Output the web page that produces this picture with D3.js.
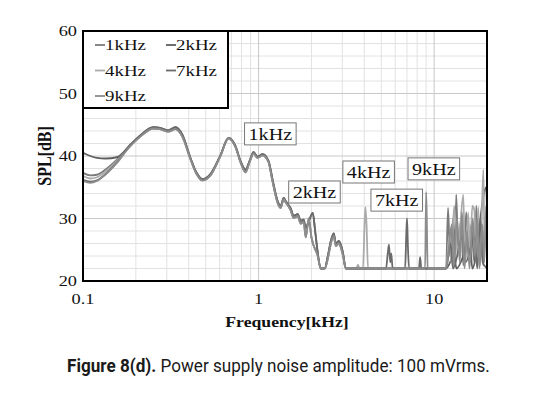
<!DOCTYPE html>
<html>
<head>
<meta charset="utf-8">
<script src="https://cdn.jsdelivr.net/npm/d3@7"></script>
<style>
  body { margin: 0; background: #fff; }
</style>
</head>
<body>
<div id="chart"></div>
<script>
// ---- data (frequency in kHz, SPL in dB) ----
const seriesNames = ["1kHz", "2kHz", "4kHz", "7kHz", "9kHz"];
const yTicks = [20, 30, 40, 50, 60];
const xTicks = [0.1, 1, 10];

// low-frequency start of each trace
const start1k = [[0.1, 37.3], [0.11, 36.9], [0.12, 37.0], [0.134, 37.8], [0.156, 39.4]];
const start2k = [[0.1, 40.5], [0.11, 40.0], [0.12, 39.7], [0.134, 39.6], [0.156, 39.8]];
const start4k = [[0.1, 36.8], [0.11, 36.4], [0.12, 36.6], [0.134, 37.5], [0.156, 39.2]];
const start7k = [[0.1, 36.2], [0.11, 35.9], [0.12, 36.1], [0.134, 37.1], [0.156, 39.0]];
const start9k = [[0.1, 36.0], [0.11, 35.7], [0.12, 36.0], [0.134, 37.0], [0.156, 38.9]];

// shared mid band, two slightly different strands
const midA = [[0.186, 41.6], [0.212, 43.1], [0.251, 44.4], [0.275, 44.3], [0.306, 43.9], [0.336, 44.3],
  [0.368, 43.1], [0.408, 39.6], [0.442, 37.2], [0.479, 36.1], [0.532, 36.9], [0.606, 40.0],
  [0.674, 42.8], [0.739, 41.4], [0.789, 39.0], [0.843, 37.4], [0.888, 39.0], [0.936, 40.4],
  [0.987, 39.7], [1.054, 40.1], [1.14, 39.0], [1.2, 36.0], [1.284, 32.5], [1.336, 31.7],
  [1.389, 33.1], [1.426, 32.6], [1.524, 31.3], [1.585, 30.1], [1.671, 30.4], [1.738, 29.2],
  [1.807, 29.5], [1.856, 27.0], [1.931, 30.0], [2.0, 27.0], [2.173, 24.0], [2.26, 22],
  [2.38, 22], [2.48, 23.6], [2.58, 26.0], [2.68, 27.2], [2.754, 25.6], [2.864, 26.0],
  [3.02, 24.2], [3.14, 22]];
const midB = [[0.186, 41.8], [0.212, 43.3], [0.251, 44.6], [0.275, 44.5], [0.306, 44.1], [0.336, 44.6],
  [0.368, 43.4], [0.408, 39.8], [0.442, 37.4], [0.479, 36.3], [0.532, 37.1], [0.606, 40.1],
  [0.674, 42.9], [0.739, 41.6], [0.789, 39.2], [0.843, 37.8], [0.888, 39.2], [0.936, 40.6],
  [0.987, 39.9], [1.054, 40.3], [1.14, 39.2], [1.2, 36.3], [1.284, 32.8], [1.336, 32.0],
  [1.389, 33.3], [1.426, 32.8], [1.524, 31.6], [1.585, 30.4], [1.671, 30.7], [1.738, 29.6],
  [1.807, 29.8], [1.856, 28.5], [1.931, 29.5], [2.035, 30.9], [2.1, 28.0], [2.173, 24.5],
  [2.26, 22], [2.38, 22], [2.48, 24.0], [2.58, 26.4], [2.68, 27.6], [2.754, 26.0],
  [2.864, 26.4], [3.02, 24.6], [3.14, 22]];

// high band: harmonic spikes and the noisy region above ~12 kHz
const high1k = [[11.7, 22], [12.0, 31.7], [12.3, 24], [12.84, 30], [13.1, 23], [13.36, 33.8], [13.7, 25],
  [14.26, 30], [14.65, 22.5], [15.24, 31], [15.64, 24], [16.26, 29], [16.93, 23], [17.38, 32],
  [17.84, 25], [18.56, 28], [19.05, 22.5], [19.5, 30], [20, 24]];
const high2k = [[11.7, 22], [13.0, 24], [13.4, 22], [16.0, 26], [16.5, 22], [19.82, 35], [20, 30]];
const high4k = [[3.6, 22], [3.68, 22.6], [3.76, 22], [3.93, 22], [4.02, 29.6], [4.06, 31.8], [4.12, 29],
  [4.2, 22], [11.7, 22], [12.2, 27], [12.5, 23], [13.0, 32], [13.6, 24], [14.65, 33.8], [15.0, 23],
  [15.64, 30.9], [16.0, 24], [16.5, 32], [16.93, 31.4], [17.38, 23], [17.84, 31.8], [18.3, 22.5],
  [19.05, 37.8], [19.4, 25], [19.82, 32], [20, 29]];
const high7k = [[5.32, 22], [5.45, 24.6], [5.53, 25.8], [5.62, 23], [5.7, 24.4], [5.8, 22], [6.83, 22],
  [6.95, 28], [7.01, 30.0], [7.08, 26], [7.2, 22], [8.2, 22], [8.32, 23.8], [8.45, 22], [11.7, 22],
  [12.4, 26], [12.8, 22], [14.5, 27], [15.1, 23], [17.0, 27], [17.6, 22], [18.3, 30], [18.9, 23], [20, 22]];
const high9k = [[8.88, 22], [9.0, 34.2], [9.08, 30], [9.18, 22], [11.7, 22], [12.1, 25], [12.6, 29],
  [12.9, 22.5], [13.5, 30], [14.0, 23], [14.4, 31], [14.9, 22], [15.4, 28], [15.9, 22], [16.6, 30],
  [17.1, 24], [17.6, 30], [18.1, 22], [18.8, 29], [19.3, 23], [19.8, 32], [20, 26]];

// label boxes: name, left frequency, top dB
const labelNames = ["1kHz", "2kHz", "4kHz", "7kHz", "9kHz"];
const labelFreq = [0.832, 1.484, 3.02, 4.365, 7.10];
const labelDb = [45.3, 36.0, 39.2, 34.7, 39.7];

const series = [
  { name: "1kHz", values: start1k.concat(midA, high1k), color: "#7a7a7a" },
  { name: "2kHz", values: start2k.concat(midB, high2k), color: "#5e5e5e" },
  { name: "4kHz", values: start4k.concat(midA, high4k), color: "#ababab" },
  { name: "7kHz", values: start7k.concat(midB, high7k), color: "#6a6a6a" },
  { name: "9kHz", values: start9k.concat(midA, high9k), color: "#8c8c8c" },
];

// ---- layout ----
const W = 547, H = 395;
const margin = { top: 31, left: 83 };
const width = 404, height = 250;
const SX = 1.22; // the figure is stretched horizontally
const serif = "'Liberation Serif', 'Times New Roman', serif";

const svg = d3.select("#chart").append("svg").attr("width", W).attr("height", H);
const g = svg.append("g").attr("transform", `translate(${margin.left},${margin.top})`);

const x = d3.scaleLog().domain([0.1, 20]).range([0, width]);
const y = d3.scaleLinear().domain([20, 60]).range([height, 0]);

// helper for horizontally stretched text
function stext(parent, px, py, str, anchor, size, weight) {
  return parent.append("text")
    .attr("transform", `translate(${px},${py}) scale(${SX},1)`)
    .attr("text-anchor", anchor || "start")
    .attr("font-family", serif)
    .attr("font-size", size || 14)
    .attr("font-weight", weight || "normal")
    .attr("fill", "#111")
    .text(str);
}

// gridlines
const minorX = [];
[0.1, 1, 10].forEach((d) => { for (let k = 2; k <= 9; k++) if (d * k <= 20) minorX.push(d * k); });
g.append("g").selectAll("line").data(minorX).enter().append("line")
  .attr("x1", (d) => x(d)).attr("x2", (d) => x(d)).attr("y1", 0).attr("y2", height)
  .attr("stroke", "#e2e2e2").attr("stroke-width", 1);
g.append("g").selectAll("line").data(d3.range(22, 60, 2).filter((d) => d % 10 !== 0)).enter().append("line")
  .attr("x1", 0).attr("x2", width).attr("y1", (d) => y(d)).attr("y2", (d) => y(d))
  .attr("stroke", "#e2e2e2").attr("stroke-width", 1);
g.append("g").selectAll("line").data([1, 10]).enter().append("line")
  .attr("x1", (d) => x(d)).attr("x2", (d) => x(d)).attr("y1", 0).attr("y2", height)
  .attr("stroke", "#c8c8c8").attr("stroke-width", 1);
g.append("g").selectAll("line").data([30, 40, 50]).enter().append("line")
  .attr("x1", 0).attr("x2", width).attr("y1", (d) => y(d)).attr("y2", (d) => y(d))
  .attr("stroke", "#c8c8c8").attr("stroke-width", 1);

// lines
g.append("clipPath").attr("id", "clip").append("rect").attr("width", width).attr("height", height);
const line = d3.line().x((d) => x(d[0])).y((d) => y(d[1])).curve(d3.curveMonotoneX);
g.append("g").attr("clip-path", "url(#clip)")
  .selectAll("path").data(series).enter().append("path")
  .attr("fill", "none")
  .attr("stroke", (d) => d.color)
  .attr("stroke-width", 1.8)
  .attr("stroke-linejoin", "round")
  .attr("d", (d) => line(d.values));

// frame
g.append("rect").attr("width", width).attr("height", height)
  .attr("fill", "none").attr("stroke", "#000").attr("stroke-width", 2);

// tick labels
yTicks.forEach((t) => stext(g, -6, y(t) + 5, String(t), "end", 15));
xTicks.forEach((t) => stext(g, x(t), height + 23, String(t), "middle", 15));

// axis titles
stext(g, width / 2 + 2, height + 46, "Frequency[kHz]", "middle", 14.5, "bold");
g.append("text")
  .attr("transform", `translate(-32,${height / 2}) scale(${SX},1) rotate(-90)`)
  .attr("text-anchor", "middle")
  .attr("font-family", serif).attr("font-size", 16).attr("font-weight", "bold")
  .attr("fill", "#111").text("SPL[dB]");

// annotation boxes
labelNames.forEach((name, i) => {
  const bx = x(labelFreq[i]), by = y(labelDb[i]);
  const box = g.append("rect").attr("x", bx).attr("y", by).attr("height", 22)
    .attr("fill", "#fff").attr("stroke", "#777").attr("stroke-width", 1);
  const t = stext(g, bx + 4, by + 17, name, "start", 16.5);
  const w = t.node().getComputedTextLength() * SX;
  box.attr("width", w + 8);
});

// legend
const legend = g.append("g");
legend.append("rect").attr("x", 0).attr("y", 0).attr("width", 145).attr("height", 77)
  .attr("fill", "#fff").attr("stroke", "#000").attr("stroke-width", 2);
series.forEach((s, i) => {
  const lx = (i % 2) * 71 + 12, ly = Math.floor(i / 2) * 25.5 + 14;
  legend.append("line").attr("x1", lx).attr("x2", lx + 10).attr("y1", ly).attr("y2", ly)
    .attr("stroke", s.color).attr("stroke-width", 1.8);
  stext(legend, lx + 10, ly + 5, s.name, "start", 15.5);
});

// caption
const cap = svg.append("text")
  .attr("font-family", "Roboto, 'Noto Sans', sans-serif")
  .attr("font-size", 19)
  .attr("fill", "#1a1a1a");
cap.append("tspan").attr("font-weight", "bold").text("Figure 8(d).");
cap.append("tspan").text(" Power supply noise amplitude: 100 mVrms.");
const capW = cap.node().getComputedTextLength();
cap.attr("transform", `translate(67,372) scale(${423 / capW},1)`);
</script>
</body>
</html>
